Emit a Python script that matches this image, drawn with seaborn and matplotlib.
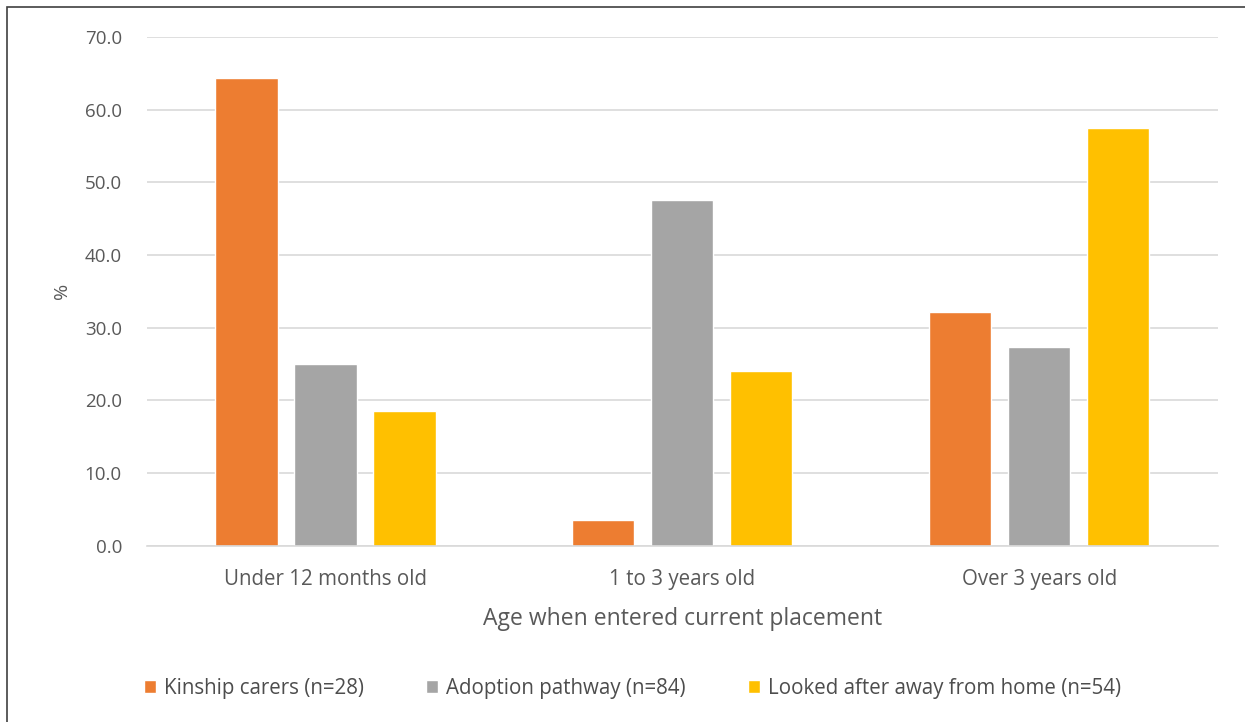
import pandas as pd
import matplotlib
matplotlib.use("Agg")
from matplotlib import pyplot as plt
from matplotlib.patches import Rectangle
import seaborn as sns

categories = ["Under 12 months old", "1 to 3 years old", "Over 3 years old"]
groups = ["Kinship carers (n=28)", "Adoption pathway (n=84)", "Looked after away from home (n=54)"]
kinship = [64.3, 3.6, 32.1]
adoption = [25.0, 47.6, 27.4]
looked_after = [18.5, 24.1, 57.4]
colors = ["#ED7D31", "#A5A5A5", "#FFC000"]

rows = []
for g, vals in zip(groups, [kinship, adoption, looked_after]):
    for c, v in zip(categories, vals):
        rows.append({"age": c, "group": g, "pct": v})
df = pd.DataFrame(rows)

sns.set_style("white")
plt.rcParams['font.family'] = ['Open Sans', 'DejaVu Sans']
text_col = "#595959"
grid_col = "#D9D9D9"

fig = plt.figure(figsize=(12.45, 7.22), dpi=100)
ax = fig.add_axes([0.118, 0.244, 0.860, 0.705])

sns.barplot(data=df, x="age", y="pct", hue="group", hue_order=groups,
            order=categories, palette=colors, width=0.664, gap=0.21,
            saturation=1, errorbar=None, ax=ax, legend=True)

ax.set_ylim(0, 70)
ax.set_xlim(-0.5, 2.5)
ax.set_yticks(range(0, 71, 10))
ax.set_yticklabels([f"{v:.1f}" for v in range(0, 71, 10)])
ax.yaxis.grid(True, color=grid_col, linewidth=1.2)
ax.set_axisbelow(True)
for s in ["top", "right", "left"]:
    ax.spines[s].set_visible(False)
ax.spines["bottom"].set_color(grid_col)
ax.spines["bottom"].set_linewidth(1.2)
ax.tick_params(axis="y", length=0, labelsize=13.5, labelcolor=text_col, pad=18)
ax.tick_params(axis="x", length=0, labelsize=14.8, labelcolor=text_col, pad=17)
ax.set_xlabel("Age when entered current placement", fontsize=16.5, color=text_col, labelpad=12)
ax.set_ylabel("%", fontsize=14, color=text_col, labelpad=10)

handles, labels = ax.get_legend_handles_labels()
ax.get_legend().remove()
fig.legend(handles, labels, loc="center", bbox_to_anchor=(0.508, 0.047), ncol=3,
           frameon=False, fontsize=14.8, labelcolor="#4d4d4d", handlelength=0.6,
           handleheight=0.6, handletextpad=0.4, columnspacing=3.0)

fig.patches.append(Rectangle((7 / 1245, -0.05), 1.05, 1.05 - 7 / 722, transform=fig.transFigure,
                             fill=False, edgecolor="#404040", linewidth=1.2))

fig.savefig("out.png", dpi=100)
